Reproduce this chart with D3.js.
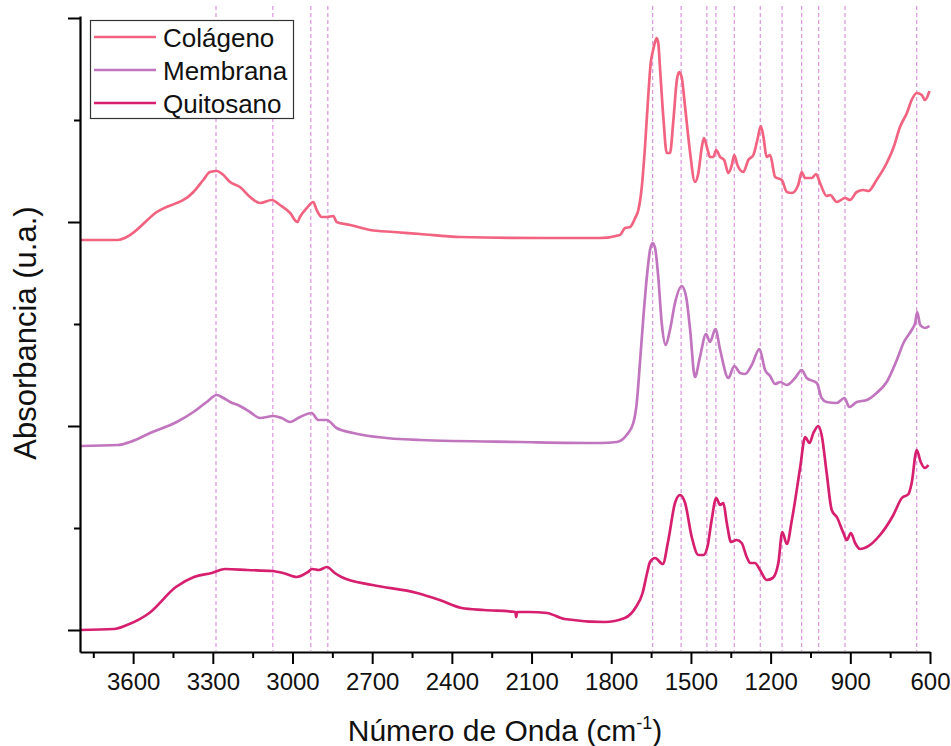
<!DOCTYPE html>
<html><head><meta charset="utf-8">
<script src="https://cdn.jsdelivr.net/npm/d3@7"></script>
<style>html,body{margin:0;padding:0;background:#fff;}svg{display:block;}</style>
</head><body>
<svg id="chart" width="951" height="746"></svg>
<script>
// ---------- DATA ----------
const seriesNames = ["Colágeno", "Membrana", "Quitosano"];
const seriesColors = ["#f26381", "#c175be", "#d61f6e"];

// wavenumber (cm-1), absorbance (a.u., stacked offset)
const colagenoWn = [3800,3657,3624,3511,3373,3336,3311,3285,3260,3235,3198,3160,3122,3078,3047,3009,2982,2972,2946,2922,2909,2890,2871,2846,2834,2783,2708,2620,2520,2369,2068,1842,1767,1748,1729,1710,1698,1685,1673,1660,1651,1644,1635,1629,1623,1616,1604,1591,1579,1566,1553,1544,1535,1522,1503,1485,1472,1459,1451,1440,1428,1416,1405,1390,1375,1359,1346,1337,1325,1303,1284,1265,1250,1237,1227,1215,1202,1183,1158,1139,1120,1096,1083,1070,1045,1029,1014,989,976,951,920,901,876,851,832,801,763,738,713,687,669,650,631,619,602];
const colagenoAbs = [4.12,4.12,4.15,4.40,4.60,4.72,4.80,4.81,4.77,4.70,4.65,4.55,4.49,4.52,4.47,4.39,4.30,4.35,4.44,4.50,4.42,4.35,4.35,4.36,4.30,4.27,4.22,4.20,4.18,4.15,4.14,4.14,4.17,4.24,4.25,4.34,4.42,4.65,5.05,5.59,5.90,6.00,6.10,6.14,6.09,5.82,5.35,4.99,4.99,5.32,5.72,5.80,5.75,5.45,4.99,4.70,4.79,5.05,5.14,5.05,4.95,4.95,5.02,4.95,4.92,4.79,4.87,4.97,4.87,4.80,4.92,4.97,5.12,5.26,5.15,4.95,4.97,4.75,4.72,4.60,4.59,4.67,4.80,4.74,4.74,4.78,4.69,4.56,4.57,4.50,4.54,4.52,4.60,4.62,4.61,4.72,4.89,5.04,5.25,5.39,5.52,5.59,5.57,5.52,5.61];

const membranaWn = [3800,3656,3612,3536,3436,3373,3323,3285,3260,3235,3198,3160,3122,3072,3041,3009,2972,2928,2903,2871,2834,2771,2683,2520,2143,1842,1779,1742,1717,1704,1692,1679,1666,1654,1644,1635,1623,1610,1595,1579,1560,1535,1518,1503,1485,1466,1443,1428,1408,1390,1359,1337,1315,1296,1271,1242,1221,1202,1183,1164,1139,1108,1083,1064,1026,1008,989,951,922,904,876,838,801,763,725,700,669,656,648,637,619,602];
const membranaAbs = [2.06,2.07,2.10,2.19,2.30,2.40,2.50,2.57,2.54,2.50,2.46,2.40,2.34,2.36,2.34,2.30,2.35,2.39,2.32,2.32,2.24,2.19,2.15,2.12,2.10,2.09,2.10,2.17,2.29,2.49,2.89,3.35,3.75,4.02,4.09,4.04,3.75,3.29,3.07,3.22,3.49,3.66,3.55,3.22,2.75,2.95,3.18,3.10,3.23,3.02,2.74,2.86,2.79,2.78,2.87,3.03,2.82,2.76,2.68,2.70,2.67,2.74,2.82,2.74,2.69,2.54,2.50,2.49,2.54,2.45,2.50,2.52,2.59,2.70,2.92,3.09,3.22,3.29,3.40,3.27,3.24,3.26];

const quitosanoWn = [3800,3673,3623,3539,3439,3371,3304,3253,3169,3077,3035,2984,2942,2926,2901,2870,2841,2816,2699,2531,2446,2363,2279,2161,2158,2154,2110,2042,1976,1825,1749,1707,1682,1665,1654,1635,1606,1585,1560,1541,1522,1497,1472,1453,1438,1422,1405,1390,1378,1365,1349,1328,1309,1290,1277,1259,1240,1215,1192,1171,1156,1139,1120,1089,1070,1054,1039,1020,1008,989,970,949,926,913,898,882,863,838,788,738,706,681,669,650,635,619,606];
const quitosanoAbs = [0.22,0.23,0.27,0.39,0.65,0.75,0.79,0.83,0.82,0.81,0.79,0.75,0.80,0.83,0.82,0.85,0.79,0.75,0.67,0.59,0.52,0.44,0.42,0.40,0.35,0.40,0.40,0.39,0.33,0.30,0.34,0.45,0.59,0.79,0.90,0.94,0.88,1.12,1.49,1.57,1.49,1.15,0.97,0.97,1.05,1.32,1.54,1.47,1.49,1.29,1.10,1.12,1.09,0.95,0.89,0.89,0.82,0.72,0.74,0.89,1.20,1.08,1.32,1.84,2.15,2.09,2.19,2.26,2.17,1.79,1.42,1.34,1.19,1.12,1.19,1.09,1.03,1.05,1.17,1.37,1.54,1.58,1.69,2.02,1.90,1.84,1.87];

// reference band positions (dashed)
const bandLines = [3288,3074,2931,2867,1644,1537,1440,1406,1337,1239,1157,1083,1019,920,650];

// axis ticks
const xMajorTicks = [3600,3300,3000,2700,2400,2100,1800,1500,1200,900,600];
const xMinorTicks = [3750,3450,3150,2850,2550,2250,1950,1650,1350,1050,750];
const yMajorTicks = [0.22,2.26,4.30,6.34];
const yMinorTicks = [1.24,3.28,5.32];

const xTitle = "Número de Onda (cm";
const xTitleSup = "-1";
const yTitle = "Absorbancia (u.a.)";

// ---------- DRAW ----------
const svg = d3.select("#chart");
const font = "'Liberation Sans', Arial, sans-serif";
const x = d3.scaleLinear().domain([3800, 600]).range([80, 930]);
const y = d3.scaleLinear().domain([0, 6.36]).range([652, 16]);

// dashed band lines
svg.append("g").selectAll("line").data(bandLines).join("line")
  .attr("x1", d => x(d)).attr("x2", d => x(d))
  .attr("y1", 6).attr("y2", 651)
  .attr("stroke", "#d68ad8").attr("stroke-width", 1.1)
  .attr("stroke-dasharray", "4,3");

const series = [
  {wn: colagenoWn, ab: colagenoAbs},
  {wn: membranaWn, ab: membranaAbs},
  {wn: quitosanoWn, ab: quitosanoAbs}
];
const line = d3.line().x(d => x(d[0])).y(d => y(d[1])).curve(d3.curveMonotoneX);
series.forEach((s, i) => {
  const pts = s.wn.map((w, k) => [w, s.ab[k]]);
  svg.append("path").datum(pts)
    .attr("d", line)
    .attr("fill", "none")
    .attr("stroke", seriesColors[i])
    .attr("stroke-width", 2.7)
    .attr("stroke-linejoin", "round");
});

// x axis
const gx = svg.append("g").attr("transform", "translate(0,652)");
gx.call(d3.axisBottom(x).tickValues(xMajorTicks).tickSize(12).tickSizeOuter(0).tickFormat(d3.format("d")));
gx.append("g").call(d3.axisBottom(x).tickValues(xMinorTicks).tickSize(6).tickSizeOuter(0).tickFormat(""))
  .select(".domain").remove();
gx.selectAll(".domain").attr("stroke", "#000").attr("stroke-width", 2.2);
gx.selectAll(".tick line").attr("stroke", "#000").attr("stroke-width", 2);
gx.selectAll(".tick text").attr("font-family", font).attr("font-size", 24).attr("fill", "#111").attr("dy", "0").attr("y", 38);

// y axis
const gy = svg.append("g").attr("transform", "translate(80,0)");
gy.call(d3.axisLeft(y).tickValues(yMajorTicks).tickSize(12).tickSizeOuter(0).tickFormat(""));
gy.append("g").call(d3.axisLeft(y).tickValues(yMinorTicks).tickSize(6).tickSizeOuter(0).tickFormat(""))
  .select(".domain").remove();
gy.selectAll(".domain").attr("stroke", "#000").attr("stroke-width", 2.2);
gy.selectAll(".tick line").attr("stroke", "#000").attr("stroke-width", 2);

// axis titles
const xt = svg.append("text").attr("x", 505).attr("y", 741).attr("text-anchor", "middle")
  .attr("font-family", font).attr("font-size", 30).attr("fill", "#111");
xt.append("tspan").text(xTitle);
xt.append("tspan").attr("dy", -12).attr("font-size", 18).text(xTitleSup);
xt.append("tspan").attr("dy", 12).text(")");

svg.append("text").attr("transform", "translate(36,333) rotate(-90)")
  .attr("text-anchor", "middle").attr("font-family", font).attr("font-size", 31)
  .attr("fill", "#111").text(yTitle);

// legend
const lg = svg.append("g");
lg.append("rect").attr("x", 90.5).attr("y", 20.5).attr("width", 203).attr("height", 98)
  .attr("fill", "#fff").attr("stroke", "#333").attr("stroke-width", 1.2);
seriesNames.forEach((n, i) => {
  const yy = 37 + i * 33;
  lg.append("line").attr("x1", 94).attr("x2", 156).attr("y1", yy).attr("y2", yy)
    .attr("stroke", seriesColors[i]).attr("stroke-width", 2.7);
  lg.append("text").attr("x", 163).attr("y", yy + 9.5).attr("font-family", font)
    .attr("font-size", 26).attr("fill", "#111").text(n);
});
</script>
</body></html>
